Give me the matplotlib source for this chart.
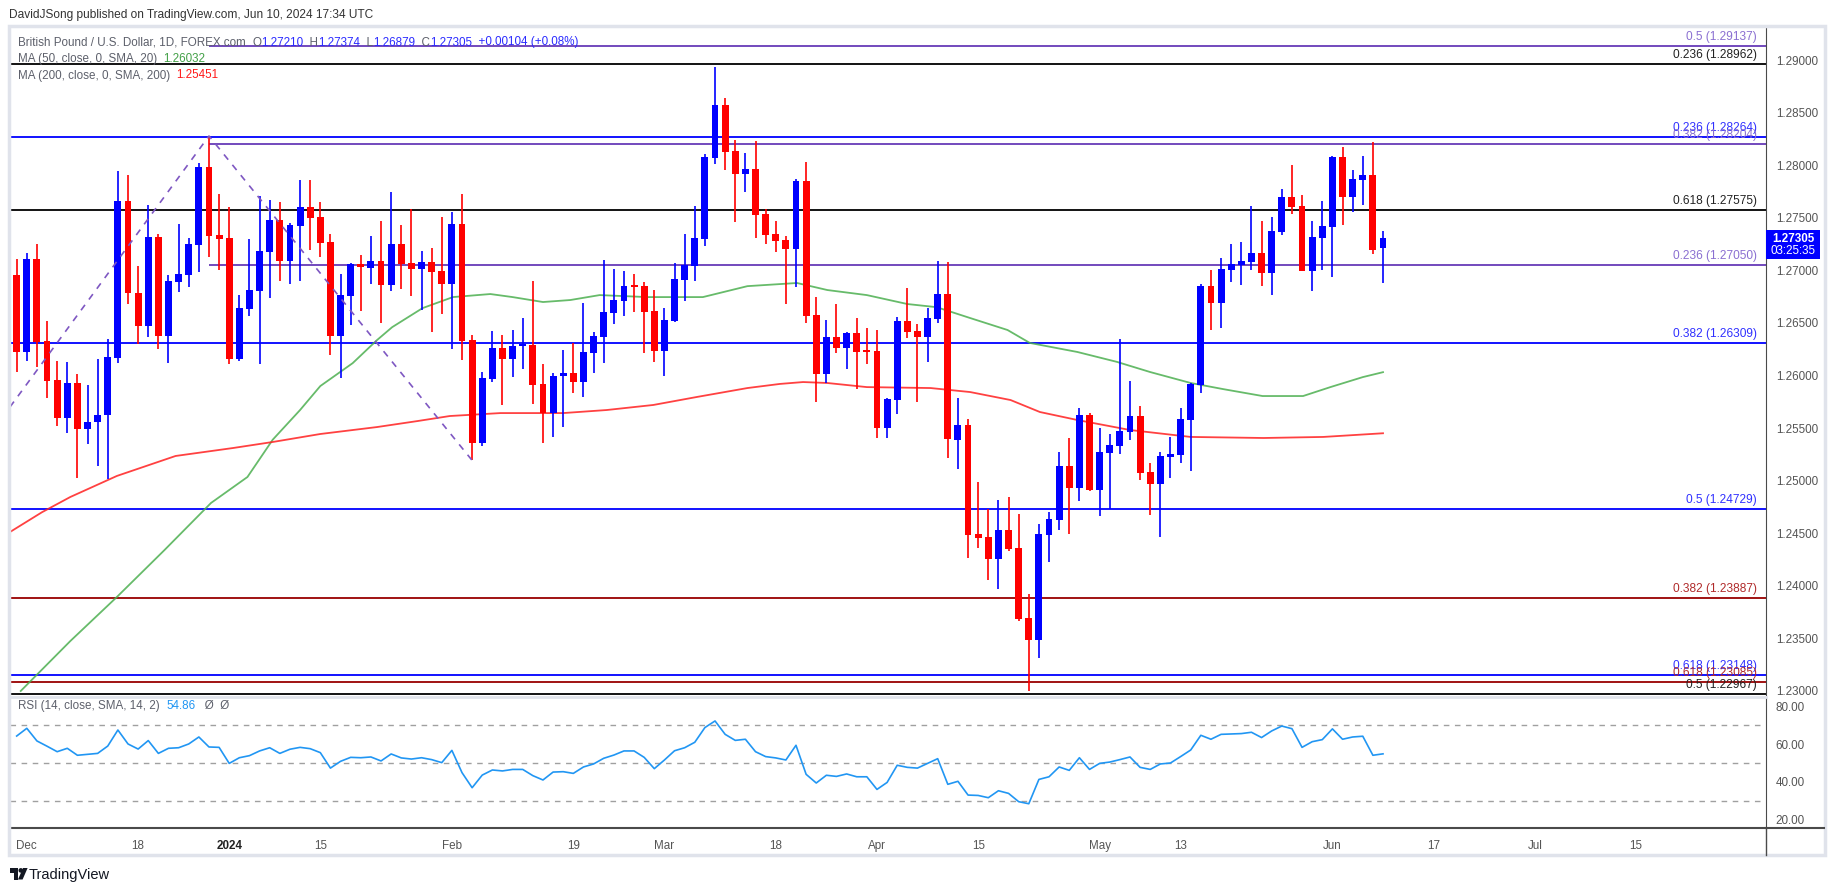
import matplotlib
matplotlib.use('Agg')
import matplotlib.pyplot as plt
from matplotlib.transforms import Affine2D
from matplotlib.patches import Rectangle, Circle, Polygon
from matplotlib.lines import Line2D

# ---- data (GBP/USD daily, Nov 30 2023 -> Jun 10 2024) ----
opens = [
    1.26956, 1.26227, 1.27108, 1.26331, 1.25957, 1.25593, 1.25929, 1.25488, 1.25555, 1.25621,
    1.26170, 1.27660, 1.26788, 1.26474, 1.27320, 1.26379, 1.26892, 1.26959, 1.27244, 1.27983,
    1.27339, 1.27308, 1.26160, 1.26636, 1.26807, 1.27178, 1.27479, 1.27092, 1.27425, 1.27602,
    1.27507, 1.27270, 1.26379, 1.26760, 1.27060, 1.27026, 1.27089, 1.26864, 1.27251, 1.27070,
    1.27016, 1.27080, 1.26994, 1.26873, 1.27441, 1.26338, 1.25355, 1.25970, 1.26265, 1.26157,
    1.26281, 1.26290, 1.25920, 1.25640, 1.25996, 1.26027, 1.25942, 1.26218, 1.26370, 1.26598,
    1.26712, 1.26848, 1.26848, 1.26614, 1.26237, 1.26522, 1.26912, 1.27045, 1.27302, 1.28072,
    1.28573, 1.28135, 1.27920, 1.27964, 1.27536, 1.27346, 1.27290, 1.27207, 1.27850, 1.26576,
    1.26012, 1.26367, 1.26265, 1.26405, 1.26234, 1.26234, 1.25504, 1.25771, 1.26519, 1.26424,
    1.26370, 1.26541, 1.26776, 1.25386, 1.25529, 1.24492, 1.24464, 1.24255, 1.24530, 1.24360,
    1.23694, 1.23488, 1.24486, 1.24629, 1.25139, 1.24933, 1.25624, 1.24911, 1.25266, 1.25333,
    1.25466, 1.25615, 1.25082, 1.24971, 1.25228, 1.25247, 1.25580, 1.25910, 1.26851, 1.26693,
    1.27007, 1.27051, 1.27083, 1.27165, 1.26978, 1.27368, 1.27698, 1.27612, 1.26997, 1.27311,
    1.27415, 1.28078, 1.27701, 1.27862, 1.27904, 1.27210,
]
highs = [
    1.27105, 1.27162, 1.27251, 1.26522, 1.26138, 1.26128, 1.26014, 1.25910, 1.26157, 1.26347,
    1.27945, 1.27907, 1.27045, 1.27621, 1.27342, 1.26956, 1.27441, 1.27311, 1.28020, 1.28278,
    1.27726, 1.27602, 1.26766, 1.27301, 1.27707, 1.27672, 1.27653, 1.27447, 1.27859, 1.27859,
    1.27650, 1.27346, 1.26965, 1.27073, 1.27146, 1.27327, 1.27472, 1.27745, 1.27431, 1.27583,
    1.27184, 1.27213, 1.27507, 1.27555, 1.27726, 1.26385, 1.26033, 1.26426, 1.26386, 1.26433,
    1.26551, 1.26902, 1.26110, 1.26027, 1.26243, 1.26306, 1.26687, 1.26417, 1.27099, 1.27013,
    1.26997, 1.26966, 1.26887, 1.26814, 1.26642, 1.27067, 1.27346, 1.27612, 1.28107, 1.28937,
    1.28643, 1.28240, 1.28116, 1.28234, 1.27581, 1.27467, 1.27327, 1.27869, 1.28031, 1.26747,
    1.26528, 1.26681, 1.26417, 1.26551, 1.26456, 1.26433, 1.25790, 1.26560, 1.26833, 1.26490,
    1.26642, 1.27089, 1.27080, 1.25783, 1.25583, 1.24987, 1.24727, 1.24816, 1.24844, 1.24683,
    1.23922, 1.24588, 1.24698, 1.25272, 1.25405, 1.25690, 1.25643, 1.25501, 1.25443, 1.26347,
    1.25948, 1.25710, 1.25168, 1.25275, 1.25415, 1.25690, 1.25932, 1.26870, 1.27003, 1.27117,
    1.27251, 1.27270, 1.27612, 1.27469, 1.27507, 1.27774, 1.28002, 1.27717, 1.27469, 1.27659,
    1.28085, 1.28176, 1.27954, 1.28087, 1.28221, 1.27374,
]
lows = [
    1.26036, 1.26141, 1.26084, 1.25783, 1.25523, 1.25450, 1.25028, 1.25345, 1.25143, 1.25013,
    1.26122, 1.26683, 1.26296, 1.26369, 1.26255, 1.26122, 1.26797, 1.26845, 1.26988, 1.27130,
    1.27007, 1.26113, 1.26140, 1.26569, 1.26113, 1.26740, 1.26902, 1.26867, 1.26902, 1.27197,
    1.27130, 1.26198, 1.25973, 1.26483, 1.26617, 1.26873, 1.26496, 1.26800, 1.26820, 1.26759,
    1.26623, 1.26410, 1.26588, 1.26255, 1.26144, 1.25193, 1.25326, 1.25941, 1.25720, 1.25990,
    1.26062, 1.25730, 1.25362, 1.25419, 1.25514, 1.25837, 1.25799, 1.26027, 1.26123, 1.26490,
    1.26570, 1.26604, 1.26218, 1.26132, 1.25999, 1.26512, 1.26712, 1.26902, 1.27232, 1.28015,
    1.27955, 1.27460, 1.27746, 1.27311, 1.27251, 1.27178, 1.26681, 1.26845, 1.26503, 1.25752,
    1.25926, 1.26218, 1.26059, 1.25869, 1.26107, 1.25403, 1.25403, 1.25631, 1.26354, 1.25745,
    1.26132, 1.26497, 1.25213, 1.25111, 1.24267, 1.24363, 1.24055, 1.23972, 1.24334, 1.23668,
    1.23003, 1.23316, 1.24229, 1.24534, 1.24492, 1.24809, 1.24901, 1.24667, 1.24730, 1.25253,
    1.25386, 1.25009, 1.24673, 1.24467, 1.25028, 1.25171, 1.25095, 1.25837, 1.26433, 1.26452,
    1.26892, 1.26861, 1.27003, 1.26851, 1.26766, 1.27336, 1.27536, 1.26990, 1.26804, 1.27003,
    1.26940, 1.27431, 1.27558, 1.27625, 1.27155, 1.26879,
]
closes = [
    1.26227, 1.27108, 1.26322, 1.25951, 1.25593, 1.25929, 1.25488, 1.25558, 1.25624, 1.26176,
    1.27660, 1.26781, 1.26474, 1.27320, 1.26379, 1.26899, 1.26965, 1.27251, 1.27983, 1.27330,
    1.27301, 1.26160, 1.26642, 1.26813, 1.27184, 1.27479, 1.27092, 1.27431, 1.27602, 1.27501,
    1.27263, 1.26379, 1.26766, 1.27060, 1.27029, 1.27089, 1.26864, 1.27251, 1.27064, 1.27016,
    1.27080, 1.26988, 1.26873, 1.27441, 1.26331, 1.25355, 1.25976, 1.26262, 1.26157, 1.26281,
    1.26290, 1.25913, 1.25640, 1.25996, 1.26027, 1.25942, 1.26224, 1.26376, 1.26604, 1.26719,
    1.26848, 1.26842, 1.26608, 1.26237, 1.26528, 1.26918, 1.27048, 1.27305, 1.28078, 1.28573,
    1.28129, 1.27920, 1.27964, 1.27530, 1.27340, 1.27283, 1.27207, 1.27850, 1.26570, 1.26012,
    1.26367, 1.26265, 1.26405, 1.26227, 1.26227, 1.25504, 1.25777, 1.26519, 1.26417, 1.26370,
    1.26547, 1.26776, 1.25394, 1.25529, 1.24483, 1.24458, 1.24255, 1.24530, 1.24350, 1.23684,
    1.23488, 1.24492, 1.24635, 1.25139, 1.24933, 1.25624, 1.24911, 1.25272, 1.25339, 1.25472,
    1.25615, 1.25076, 1.24971, 1.25234, 1.25253, 1.25586, 1.25919, 1.26851, 1.26693, 1.27013,
    1.27060, 1.27089, 1.27165, 1.26978, 1.27374, 1.27698, 1.27606, 1.26997, 1.27317, 1.27422,
    1.28078, 1.27701, 1.27869, 1.27904, 1.27194, 1.27305,
]

# moving averages, read at points along the lines (bar index, value)
ma50_idx = [0.4, 5.3, 9.9, 14.6, 19.2, 22.8, 25.3, 28, 30, 33.2, 35.6, 37.1, 40.1, 43.1, 46.8,
            49, 52, 54.7, 57.6, 62.3, 67.8, 72.2, 77.1, 80.1, 84, 88, 90.9, 94.2, 97.9, 100.1,
            104.8, 108.7, 112, 116, 119.2, 123.1, 127.1, 129.8, 133, 135]
ma50_val = [1.2300, 1.23475, 1.23894, 1.2434, 1.24788, 1.25035, 1.2539, 1.25672, 1.259, 1.26118,
            1.26337, 1.2646, 1.26641, 1.26746, 1.26775, 1.26746, 1.26699, 1.26718, 1.26765, 1.26746,
            1.26746, 1.2685, 1.2688, 1.26813, 1.26765, 1.2668, 1.2665, 1.26547, 1.26433, 1.2631,
            1.26224, 1.2613, 1.26033, 1.25929, 1.25871, 1.25805, 1.25805, 1.2589, 1.25985, 1.26032]
ma200_idx = [-0.66, 2.5, 5.3, 9.9, 15.7, 21.4, 25.3, 30, 35.6, 39.6, 42.8, 47.8, 54,
             58.3, 62.9, 67.2, 72.2, 75.4, 77.7, 80.1, 84, 90.3, 94.2, 98.2, 101.1, 104.8, 110,
             116, 123.2, 129.1, 135]
ma200_val = [1.24512, 1.24700, 1.24845, 1.25045, 1.25235, 1.25311, 1.25368,
             1.25444, 1.2551, 1.25567, 1.25615, 1.25643, 1.25643, 1.25672, 1.2572, 1.25796, 1.25881,
             1.2592, 1.25938, 1.25929, 1.2589, 1.25881, 1.25843, 1.25767, 1.25653, 1.25577, 1.25482,
             1.25416, 1.25406, 1.25416, 1.25451]

rsi = [
    64.3, 68.4, 61.7, 58.9, 56.0, 57.8, 54.1, 54.6, 55.1, 59.0,
    67.5, 60.1, 57.4, 61.9, 55.1, 57.8, 58.1, 60.1, 63.8, 58.5,
    58.3, 49.8, 52.8, 53.9, 56.4, 58.1, 55.1, 57.3, 58.3, 57.6,
    55.5, 47.3, 50.9, 53.0, 52.8, 53.2, 51.1, 54.8, 52.7, 52.1,
    52.8, 51.8, 50.2, 56.7, 44.9, 36.9, 43.6, 46.3, 45.8, 46.6,
    46.6, 43.3, 41.0, 45.2, 45.4, 44.5, 47.9, 49.5, 52.5, 54.2,
    56.4, 56.4, 53.0, 47.0, 51.6, 56.5, 58.1, 61.0, 68.8, 72.3,
    65.2, 62.0, 62.6, 56.0, 53.4, 52.7, 51.6, 59.4, 44.0, 39.4,
    43.5, 42.9, 44.2, 42.7, 42.7, 36.0, 39.7, 48.8, 47.7, 47.3,
    49.8, 52.3, 38.7, 40.3, 33.0, 32.8, 31.6, 35.3, 33.9, 29.5,
    28.4, 41.3, 42.7, 47.9, 46.1, 52.8, 46.6, 49.8, 50.5, 51.8,
    53.2, 47.7, 46.6, 49.5, 50.0, 53.4, 56.9, 64.7, 62.6, 65.2,
    65.4, 65.6, 66.3, 63.5, 67.0, 69.6, 68.2, 58.3, 61.3, 62.4,
    68.1, 62.6, 63.8, 64.2, 54.1, 54.86,
]

# fibonacci levels
fib_ratios = ['0.5', '0.236', '0.236', '0.382', '0.618', '0.236', '0.382', '0.5', '0.382', '0.618', '0.618', '0.5']
fib_values = [1.29137, 1.28962, 1.28264, 1.28204, 1.27575, 1.27050, 1.26309, 1.24729, 1.23887, 1.23148, 1.23085, 1.22967]
fib_start = [19, None, None, 19, None, 19, None, None, None, None, None, None]
fib_line_col = ['#673ab7', '#000000', '#0000ff', '#673ab7', '#000000', '#673ab7', '#0000ff', '#0000ff',
                '#990000', '#0000ff', '#990000', '#000000']
fib_text_col = ['#8a6fd1', '#222222', '#3030ff', '#8a6fd1', '#222222', '#8a6fd1', '#3030ff', '#3030ff',
                '#b02a2a', '#3030ff', '#b02a2a', '#222222']

# zigzag swing (dashed)
zz_idx = [-0.66, 19, 45]
zz_val = [1.25701, 1.28278, 1.25193]

tick_pos = [1, 12, 21, 30, 43, 55, 64, 75, 85, 95, 107, 115, 130, 140, 150, 160]
tick_lab = ['Dec', '18', '2024', '15', 'Feb', '19', 'Mar', '18', 'Apr', '15', 'May', '13', 'Jun', '17', 'Jul', '15']

price_ticks = [1.23, 1.235, 1.24, 1.245, 1.25, 1.255, 1.26, 1.265, 1.27, 1.275, 1.28, 1.285, 1.29]
rsi_ticks = [20, 40, 60, 80]

# ---- figure ----
W, H = 1835, 891
plt.rcParams['font.family'] = ['Liberation Sans', 'DejaVu Sans']
fig = plt.figure(figsize=(W / 100, H / 100), dpi=100)
fig.patch.set_facecolor('white')
PX = Affine2D().scale(1 / W, -1 / H).translate(0, 1) + fig.transFigure


def box(x0, y0, x1, y1):
    return [x0 / W, 1 - y1 / H, (x1 - x0) / W, (y1 - y0) / H]


ax = fig.add_axes(box(10, 28, 1766, 695.3))
rax = fig.add_axes(box(10, 697, 1766, 827.7), sharex=ax)

XMIN, XMAX = -0.66, 172.84
ax.set_xlim(XMIN, XMAX)
ax.set_ylim(1.22959, 1.29305)

BLUE, RED = '#0000ff', '#ff0000'
n = len(opens)
idx = list(range(n))
cols = [BLUE if c >= o else RED for o, c in zip(opens, closes)]
body_lo = [min(o, c) for o, c in zip(opens, closes)]
body_h = [max(abs(c - o), 0.00015) for o, c in zip(opens, closes)]

# fib lines
for v, s, c in zip(fib_values, fib_start, fib_line_col):
    x0 = XMIN if s is None else s
    ax.hlines(v, x0, XMAX, colors=c, lw=1.3, zorder=1)
for r, v, c in zip(fib_ratios, fib_values, fib_text_col):
    ax.annotate(f'{r} ({v:.5f})', xy=(1, v), xycoords=('axes fraction', 'data'),
                xytext=(-9, 3), textcoords='offset pixels', ha='right', va='bottom',
                color=c, fontsize=8.6, annotation_clip=False, zorder=6)

# moving averages
ax.plot(ma50_idx, ma50_val, color='#4caf50', lw=1.3, alpha=0.85, zorder=2)
ax.plot(ma200_idx, ma200_val, color='#ff2020', lw=1.3, alpha=0.85, zorder=2)

# candles
ax.vlines(idx, lows, highs, colors=cols, lw=1.2, zorder=3)
ax.bar(idx, body_h, bottom=body_lo, width=0.68, color=cols, linewidth=0, zorder=4)

# zigzag
ax.plot(zz_idx, zz_val, color='#7e57c2', lw=1.2, ls=(0, (4, 4)), zorder=5)

ax.yaxis.tick_right()
ax.set_yticks(price_ticks, [f'{p:.5f}' for p in price_ticks])
ax.tick_params(axis='y', length=0, pad=7, labelsize=8.4, labelcolor='#555555')
ax.tick_params(axis='x', length=0, labelbottom=False)
for s in ['top', 'left', 'bottom']:
    ax.spines[s].set_visible(False)
ax.spines['right'].set_color('#4a4a4a')

# RSI pane
rax.set_ylim(15.7, 85.0)
for lvl in [70, 50, 30]:
    rax.axhline(lvl, color='#a0a0a0', lw=1, ls=(0, (4, 4)))
rax.plot(idx, rsi, color='#2196f3', lw=1.2)
rax.yaxis.tick_right()
rax.set_yticks(rsi_ticks, [f'{t:.2f}' for t in rsi_ticks])
rax.tick_params(axis='y', length=0, pad=7, labelsize=8.4, labelcolor='#555555')
rax.set_xticks(tick_pos, tick_lab)
rax.tick_params(axis='x', length=0, pad=9, labelsize=8.4, labelcolor='#555555')
for t in rax.get_xticklabels():
    if t.get_text() == '2024':
        t.set_color('#222222')
        t.set_fontweight('bold')
rax.spines['left'].set_visible(False)
rax.spines['top'].set_color('#e0e3eb')
rax.spines['top'].set_linewidth(2)
rax.spines['right'].set_color('#4a4a4a')
rax.spines['bottom'].set_color('#4a4a4a')
rax.spines['bottom'].set_linewidth(1.5)

# frame, axis extensions
fig.add_artist(Rectangle((9, 26), 1816, 829, transform=PX, fill=False, edgecolor='#e0e3eb', lw=2.5))
fig.add_artist(Line2D([1766, 1766], [828, 855], transform=PX, color='#4a4a4a', lw=1))
fig.add_artist(Line2D([1766, 1824], [828, 828], transform=PX, color='#4a4a4a', lw=1.5))

# header
fig.text(9, 15, 'DavidJSong published on TradingView.com, Jun 10, 2024 17:34 UTC',
         transform=PX, fontsize=8.6, color='#333333', va='center')


def chain(host, x, y, pieces, size=8.4):
    t = fig.text(x, y, pieces[0][0], color=pieces[0][1], transform=PX, fontsize=size, va='center', zorder=7)
    for s, c in pieces[1:]:
        t = host.annotate(s, xy=(1, 0.5), xycoords=t, va='center', ha='left', color=c,
                          fontsize=size, annotation_clip=False, zorder=7)


GRAY, VAL = '#5d606b', '#2b2bff'
chain(ax, 18, 42.5, [('British Pound / U.S. Dollar, 1D, FOREX.com  ', GRAY), ('O', GRAY), ('1.27210', VAL),
                     ('  H', GRAY), ('1.27374', VAL), ('  L', GRAY), ('1.26879', VAL), ('  C', GRAY),
                     ('1.27305', VAL), ('  +0.00104 (+0.08%)', VAL)])
chain(ax, 18, 59, [('MA (50, close, 0, SMA, 20)  ', GRAY), ('1.26032', '#43a047')])
chain(ax, 18, 75.5, [('MA (200, close, 0, SMA, 200)  ', GRAY), ('1.25451', '#ff1a1a')])
chain(rax, 18, 706, [('RSI (14, close, SMA, 14, 2)  ', GRAY), ('54.86', '#2196f3'), ('   \u00d8  \u00d8', GRAY)])

# last price tag
fig.add_artist(Rectangle((1766, 230), 54, 29, transform=PX, facecolor='#0000ff', edgecolor='none'))
fig.text(1793, 239.5, f'{closes[-1]:.5f}', transform=PX, color='white', fontsize=8.4,
         fontweight='bold', ha='center', va='center')
fig.text(1793, 251.5, '03:25:35', transform=PX, color='white', fontsize=8.4, ha='center', va='center')

# logo
fig.add_artist(Rectangle((9.5, 868), 8.5, 4.5, transform=PX, facecolor='#131722', edgecolor='none'))
fig.add_artist(Rectangle((13.5, 868), 4.5, 11.5, transform=PX, facecolor='#131722', edgecolor='none'))
fig.add_artist(Circle((20.8, 870.4), 2.3, transform=PX, facecolor='#131722', edgecolor='none'))
fig.add_artist(Polygon([(23, 868), (27.6, 868), (22.6, 879.5), (18, 879.5)], closed=True,
                       transform=PX, facecolor='#131722', edgecolor='none'))
fig.text(29, 874.5, 'TradingView', transform=PX, fontsize=10.5, color='#131722', va='center')

fig.savefig('out.png', dpi=100)
